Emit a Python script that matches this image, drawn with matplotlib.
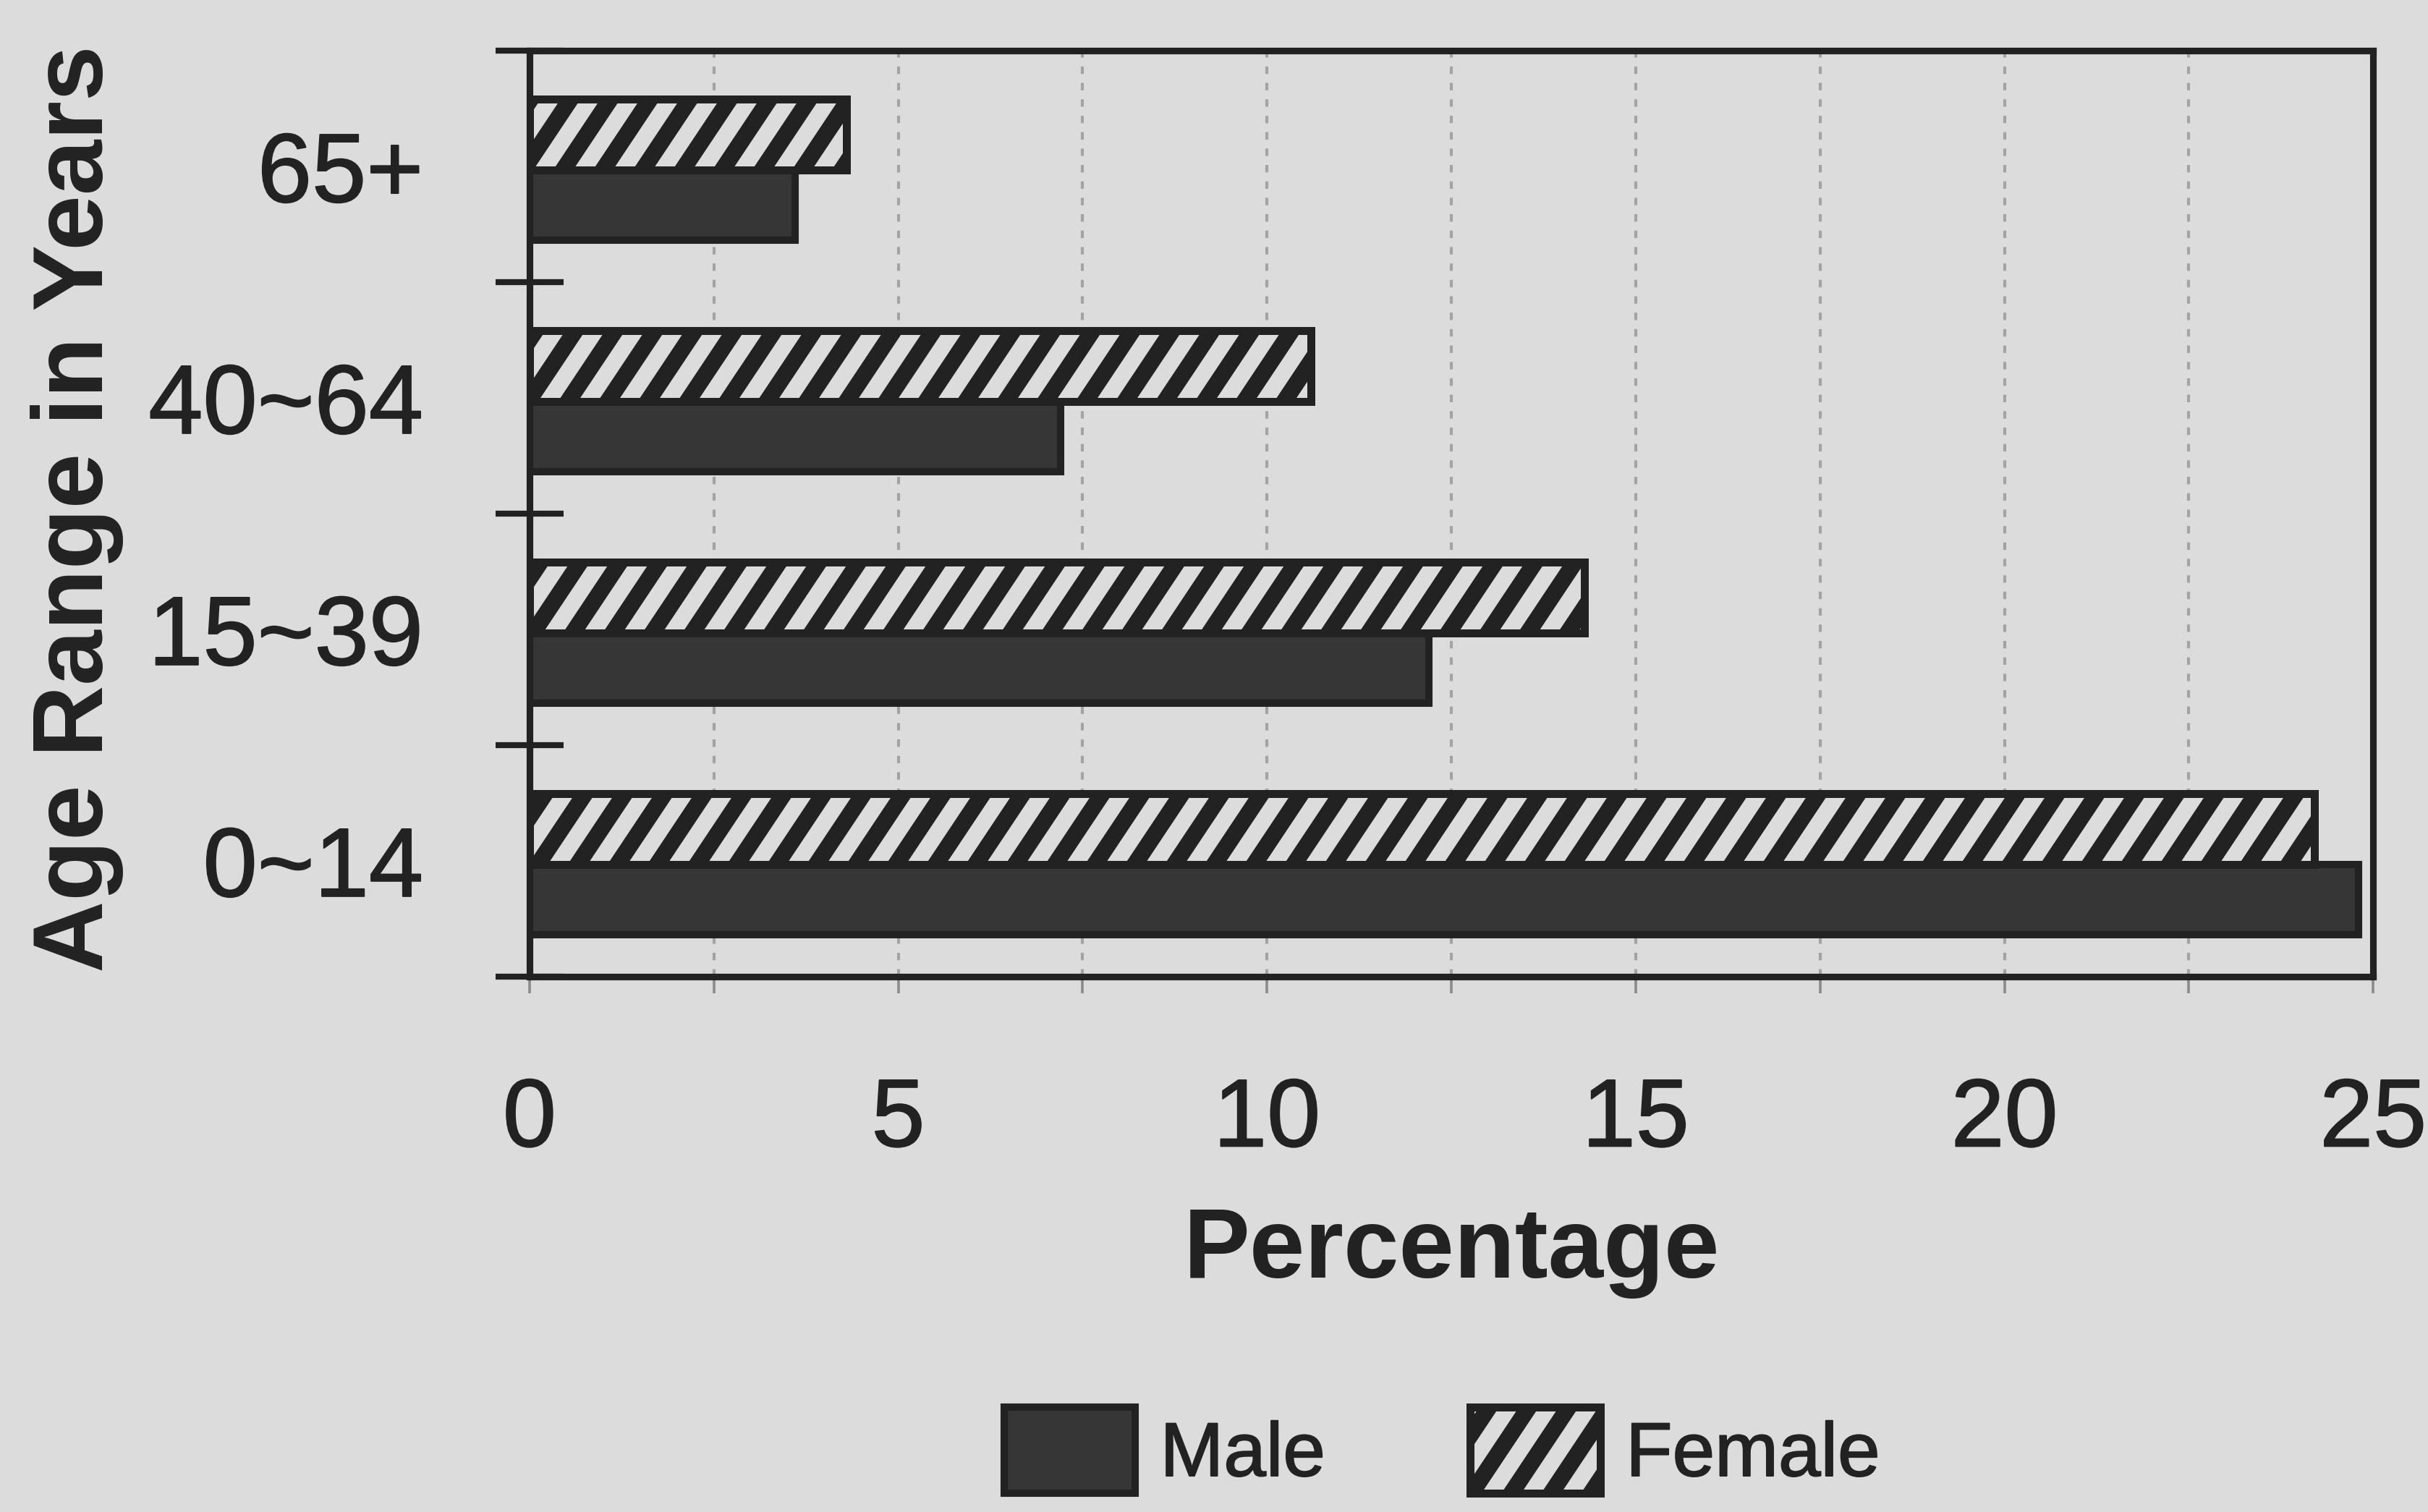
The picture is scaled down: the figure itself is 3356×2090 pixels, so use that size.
import numpy as np
import matplotlib
matplotlib.use("Agg")
import matplotlib.pyplot as plt
import matplotlib.hatch as mhatch
import matplotlib.patheffects as pe
from matplotlib.path import Path
from matplotlib.ticker import MultipleLocator

# ---- data -------------------------------------------------------------
age_groups = ["0~14", "15~39", "40~64", "65+"]
male = [24.8, 12.2, 7.2, 3.6]
female = [24.2, 14.3, 10.6, 4.3]
series_labels = ["Male", "Female"]
x_ticks = [0, 5, 10, 15, 20, 25]

# ---- style ------------------------------------------------------------
INK = "#222222"
BG = "#dcdcdc"
MALE_FILL = "#363636"
GRID = "#a3a3a3"


class SteepNorthEastHatch(mhatch.HatchPatternBase):
    """'/' hatch with a 3:2 slope; tiles seamlessly for densities that are multiples of 3."""
    slope = 1.5

    def __init__(self, hatch, density):
        self.num_lines = int(hatch.count('/') * density)
        if self.num_lines:
            n = self.num_lines
            self.offsets = np.arange(-2 * n, 2 * n + 1) / n
            self.num_vertices = len(self.offsets) * 2
        else:
            self.num_vertices = 0

    def set_vertices_and_codes(self, vertices, codes):
        y0, y1 = -0.5, 1.5
        c = self.offsets
        vertices[0::2, 0] = c + y0 / self.slope
        vertices[0::2, 1] = y0
        vertices[1::2, 0] = c + y1 / self.slope
        vertices[1::2, 1] = y1
        codes[0::2] = Path.MOVETO
        codes[1::2] = Path.LINETO


mhatch._hatch_types = [SteepNorthEastHatch if t is mhatch.NorthEastHatch else t
                       for t in mhatch._hatch_types]

plt.rcParams["font.family"] = ["Liberation Sans", "DejaVu Sans"]
plt.rcParams["hatch.linewidth"] = 5.0

# slight stroke so the regular-weight text reads a little heavier
heavy = [pe.withStroke(linewidth=0.4, foreground=INK)]

DPI = 330
fig = plt.figure(figsize=(3356 / DPI, 2090 / DPI), dpi=DPI, facecolor=BG)
ax = fig.add_axes([0.2181, 0.3541, 0.7593, 0.6124], facecolor=BG)

y = np.arange(len(age_groups))
h = 0.305
shift = -0.015
ax.barh(y - h / 2 + shift, male, height=h, color=MALE_FILL, edgecolor=INK,
        linewidth=2.2, label=series_labels[0], zorder=3)
ax.barh(y + h / 2 + shift, female, height=h, color=BG, edgecolor=INK, hatch="/",
        linewidth=2.4, label=series_labels[1], zorder=3)

ax.set_xlim(0, 25)
ax.set_ylim(-0.5, len(age_groups) - 0.5)

# x axis: labelled every 5, dashed grid every 2.5
ax.set_xticks(x_ticks)
ax.xaxis.set_minor_locator(MultipleLocator(2.5))
ax.tick_params(axis="x", which="both", direction="out", length=5, width=0.8,
               color="#8c8c8c", pad=25, labelsize=29, labelcolor=INK)
ax.grid(axis="x", which="both", color=GRID, linestyle=(0, (2.5, 3)),
        linewidth=0.9, zorder=0)
ax.set_axisbelow(True)

# y axis: tick marks between categories, labels at category centres
ax.set_yticks(np.arange(-0.5, len(age_groups)))
ax.set_yticks(y, labels=age_groups, minor=True)
ax.tick_params(axis="y", which="major", direction="inout", length=20.7,
               width=1.8, color=INK, labelleft=False)
ax.tick_params(axis="y", which="minor", length=0, pad=32, labelsize=29.5,
               labelcolor=INK)

for lbl in ax.get_xticklabels() + ax.get_yticklabels(minor=True):
    lbl.set_path_effects(heavy)

for sp in ax.spines.values():
    sp.set_linewidth(2.0)
    sp.set_color(INK)

ax.set_xlabel("Percentage", fontsize=30, fontweight="bold", color=INK)
ax.xaxis.set_label_coords(0.5, -0.297)
ax.xaxis.label.set_va("center")

ax.set_ylabel("Age Range in Years", fontsize=30, fontweight="bold", color=INK)
ax.yaxis.set_label_coords(-0.2453, 0.505)
ax.yaxis.label.set_va("center")
ax.yaxis.label.set_ha("center")

handles, labels = ax.get_legend_handles_labels()
leg = fig.legend(handles, labels, loc="center", bbox_to_anchor=(0.594, 0.0407),
                 ncol=2, frameon=False, fontsize=23, handlelength=1.71,
                 handleheight=1.36, handletextpad=0.33, columnspacing=1.9,
                 borderaxespad=0, borderpad=0)
for t in leg.get_texts():
    t.set_color(INK)
    t.set_path_effects(heavy)

fig.savefig("out.png", dpi=DPI, facecolor=BG)
